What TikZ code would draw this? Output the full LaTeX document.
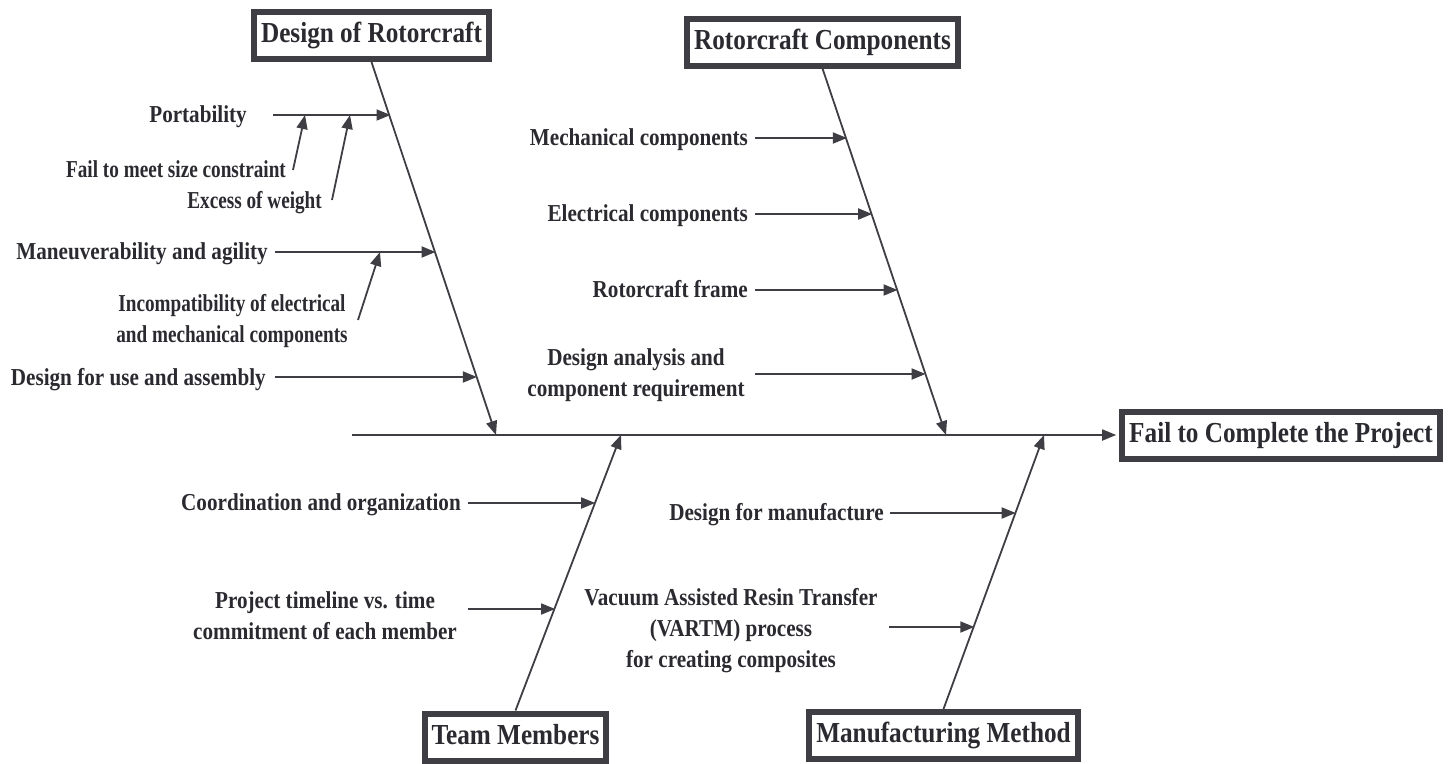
\documentclass[tikz,border=0pt]{standalone}
\usepackage{fontspec}
\setmainfont{Liberation Serif}[FakeStretch=0.87]
\newfontfamily\narrowserif{Liberation Serif}[FakeStretch=0.79]
\usetikzlibrary{arrows.meta}
\definecolor{ink}{RGB}{62,62,68}
\definecolor{txt}{RGB}{42,42,48}
\begin{document}
\begin{tikzpicture}[x=1pt,y=-1pt,
  inkline/.style={draw=ink,line width=1.8pt},
  arr/.style={inkline,-{Triangle[length=14pt,width=11pt]}},
  title/.style={draw=ink,line width=6pt,fill=white,text=txt,inner xsep=7pt,inner ysep=0pt,
    minimum height=47pt,text height=20pt,text depth=6pt,font=\fontsize{29}{34}\selectfont\bfseries},
  lbl/.style={text=txt,inner sep=0pt,font=\fontsize{24.3}{31}\selectfont\bfseries},
  sublbl/.style={text=txt,inner sep=0pt,font=\narrowserif\fontsize{24.3}{31}\selectfont\bfseries},
  lblr/.style={lbl,anchor=base east},
  lblc/.style={lbl,align=center,anchor=center}]
\useasboundingbox (0,0) rectangle (1451,763);

% category boxes
\node[title] (dor)  at (371.5,35.5) {Design of Rotorcraft};
\node[title] (rc)   at (822.5,42)   {Rotorcraft Components};
\node[title] (fail) at (1281,435)   {Fail to Complete the Project};
\node[title] (tm)   at (515.5,737)  {Team Members};
\node[title] (mm)   at (943.5,735.5){Manufacturing Method};

% spine and bones
\coordinate (s0) at (352,435);
\coordinate (b1) at (496,435);
\coordinate (b2) at (946,435);
\coordinate (b3) at (621,435);
\coordinate (b4) at (1044,435);
\draw[arr,shorten >=3pt] (s0) -- (fail.west);
\draw[arr] (dor.south) -- (b1);
\draw[arr] (rc.south) -- (b2);
\draw[arr] (tm.north) -- (b3);
\draw[arr] (mm.north) -- (b4);

% Design of Rotorcraft causes
\node[lblr] (port) at (247,122) {Portability};
\coordinate (port0) at (273,115); \coordinate (port1) at (390.5,115);
\draw[arr] (port0) -- (port1);
\node[sublbl,anchor=base east] (fsc) at (286,177) {Fail to meet size constraint};
\coordinate (fsc0) at (293,170); \coordinate (fsc1) at (305,115);
\draw[arr] (fsc0) -- (fsc1);
\node[sublbl,anchor=base east] (eow) at (322,208) {Excess of weight};
\coordinate (eow0) at (332,200); \coordinate (eow1) at (350,115);
\draw[arr] (eow0) -- (eow1);
\node[lblr] (man) at (268,259) {Maneuverability and agility};
\coordinate (man0) at (275,252); \coordinate (man1) at (435.6,252);
\draw[arr] (man0) -- (man1);
\node[sublbl,align=center,anchor=center] (inc) at (232,321) {Incompatibility of electrical\\and mechanical components};
\coordinate (inc0) at (358,320); \coordinate (inc1) at (380,252);
\draw[arr] (inc0) -- (inc1);
\node[lblr] (dfu) at (266,385) {Design for use and assembly};
\coordinate (dfu0) at (275,377); \coordinate (dfu1) at (476.9,377);
\draw[arr] (dfu0) -- (dfu1);

% Rotorcraft Components causes
\node[lblr] (mec) at (748,145) {Mechanical components};
\coordinate (mec0) at (755,138); \coordinate (mec1) at (846.9,138);
\draw[arr] (mec0) -- (mec1);
\node[lblr] (ele) at (748,221) {Electrical components};
\coordinate (ele0) at (755,214); \coordinate (ele1) at (872.2,214);
\draw[arr] (ele0) -- (ele1);
\node[lblr] (frm) at (748,297) {Rotorcraft frame};
\coordinate (frm0) at (755,290); \coordinate (frm1) at (897.6,290);
\draw[arr] (frm0) -- (frm1);
\node[lblc] (dan) at (636,375) {Design analysis and\\component requirement};
\coordinate (dan0) at (755,374); \coordinate (dan1) at (925.6,374);
\draw[arr] (dan0) -- (dan1);

% Team Members causes
\node[lblr] (coo) at (461,510) {Coordination and organization};
\coordinate (coo0) at (468,503); \coordinate (coo1) at (595.2,503);
\draw[arr] (coo0) -- (coo1);
\node[lblc] (ptl) at (325,616) {Project timeline vs. time\\commitment of each member};
\coordinate (ptl0) at (468,609); \coordinate (ptl1) at (555.1,609);
\draw[arr] (ptl0) -- (ptl1);

% Manufacturing Method causes
\node[lblr] (dfm) at (884,520) {Design for manufacture};
\coordinate (dfm0) at (890,513); \coordinate (dfm1) at (1015.7,513);
\draw[arr] (dfm0) -- (dfm1);
\node[lblc] (var) at (731,631) {Vacuum Assisted Resin Transfer\\(VARTM) process\\for creating composites};
\coordinate (var0) at (889,627); \coordinate (var1) at (974.3,627);
\draw[arr] (var0) -- (var1);
\end{tikzpicture}
\end{document}
